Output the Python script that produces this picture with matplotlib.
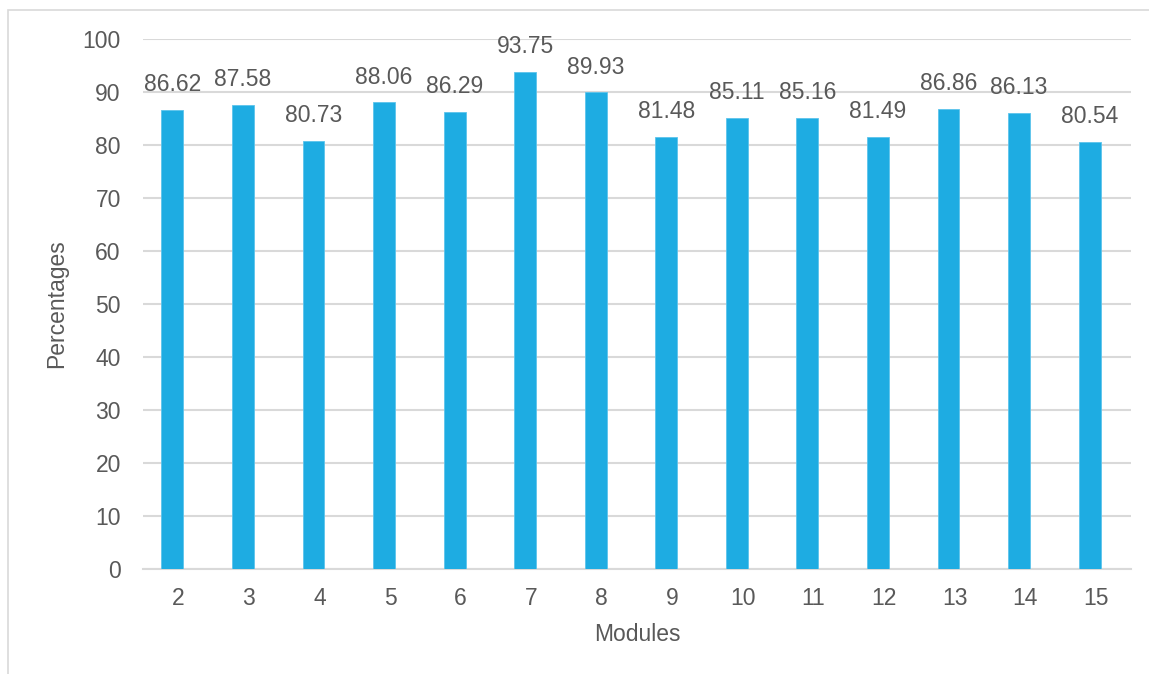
import matplotlib.pyplot as plt
from matplotlib.patches import Rectangle

modules = ['2', '3', '4', '5', '6', '7', '8', '9', '10', '11', '12', '13', '14', '15']
percentages = [86.62, 87.58, 80.73, 88.06, 86.29, 93.75, 89.93, 81.48, 85.11, 85.16, 81.49, 86.86, 86.13, 80.54]

plt.rcParams['font.family'] = ['Liberation Sans', 'DejaVu Sans']
text_color = '#595959'
fs = 16.5

fig = plt.figure(figsize=(11.49, 6.74), dpi=100)
ax = fig.add_axes([0.1245, 0.1558, 0.8598, 0.7862])

# outer chart border (left and top visible in the reference)
fig.patches.append(Rectangle((8 / 1149, -0.1), 1.2, 1 - 10 / 674 + 0.1, transform=fig.transFigure,
                             fill=False, edgecolor='#D9D9D9', linewidth=1.2))

x = list(range(len(modules)))
# bars sit slightly left of the category centre, as in the original
bar_x = [i - 0.085 for i in x]
ax.bar(bar_x, percentages, width=0.31, color='#1EACE2', edgecolor='#5CC4EC', linewidth=0.6, zorder=3)
for bx, v in zip(bar_x, percentages):
    ax.text(bx, v + 2.6, '{:.2f}'.format(v), ha='center', va='bottom', fontsize=fs, color=text_color)

ax.set_xlim(-0.5, len(modules) - 0.5)
ax.set_ylim(0, 100)
ax.set_yticks(range(0, 101, 10))
ax.set_xticks(x)
ax.set_xticklabels(modules)
ax.grid(axis='y', color='#D9D9D9', linewidth=1.5, zorder=0)
ax.set_axisbelow(True)
for s in ['top', 'right', 'left']:
    ax.spines[s].set_visible(False)
ax.spines['bottom'].set_color('#D9D9D9')
ax.spines['bottom'].set_linewidth(1.5)
ax.tick_params(axis='both', length=0, labelsize=fs, labelcolor=text_color)
ax.tick_params(axis='x', pad=13)
ax.tick_params(axis='y', pad=16)
ax.set_xlabel('Modules', fontsize=fs, color=text_color, va='center')
ax.set_ylabel('Percentages', fontsize=fs, color=text_color, va='center')
ax.xaxis.set_label_coords(0.5, -0.1245)
ax.yaxis.set_label_coords(-0.087, 0.5)

fig.savefig('out.png', dpi=100)
